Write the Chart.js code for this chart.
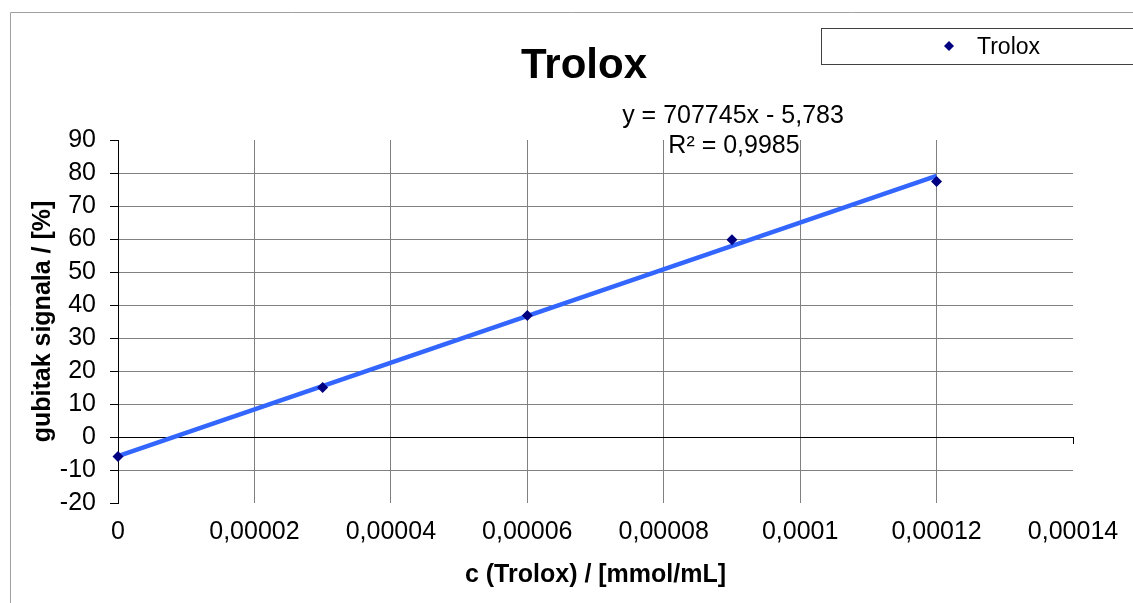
<!DOCTYPE html>
<html>
<head>
<meta charset="utf-8">
<script src="https://cdn.jsdelivr.net/npm/chart.js@4.4.1/dist/chart.umd.min.js"></script>
<style>
  html, body { margin: 0; padding: 0; background: #fff; }
  #wrap { width: 1133px; height: 603px; }
</style>
</head>
<body>
<div id="wrap"><canvas id="trolox"></canvas></div>
<script>
// --- Podaci ---
const concentrations = [0, 0.00003, 0.00006, 0.00009, 0.00012];
const signalLoss = [-5.9, 15.0, 36.8, 59.8, 77.4];
const trendX = [0, 0.00012];
const trendY = [-5.8, 79.1];
const xTickValues = [0, 0.00002, 0.00004, 0.00006, 0.00008, 0.0001, 0.00012, 0.00014];
const xTickLabels = ['0', '0,00002', '0,00004', '0,00006', '0,00008', '0,0001', '0,00012', '0,00014'];
const yTickValues = [-20, -10, 0, 10, 20, 30, 40, 50, 60, 70, 80, 90];
const yTickLabels = ['-20', '-10', '0', '10', '20', '30', '40', '50', '60', '70', '80', '90'];

const FONT = "'Liberation Sans', Arial, sans-serif";
const GRID = '#808080';

// Naslov, okvir, legenda i jednadzba pravca
const decorations = {
    id: 'decorations',
    afterDraw(chart) {
        const ctx = chart.ctx;
        const x = chart.scales.x;
        const y = chart.scales.y;
        ctx.save();

        // vanjski okvir grafikona
        ctx.strokeStyle = '#a0a0a0';
        ctx.lineWidth = 1;
        ctx.beginPath();
        ctx.moveTo(10.5, 603);
        ctx.lineTo(10.5, 12.5);
        ctx.lineTo(1133, 12.5);
        ctx.stroke();

        // naslov
        ctx.fillStyle = '#000';
        ctx.font = 'bold 42px ' + FONT;
        ctx.textAlign = 'center';
        ctx.textBaseline = 'alphabetic';
        ctx.fillText('Trolox', 584, 78);

        // legenda
        ctx.strokeStyle = '#404040';
        ctx.strokeRect(821.5, 28.5, 400, 36);
        const mx = 949, my = 46, r = 5;
        ctx.fillStyle = '#000080';
        ctx.beginPath();
        ctx.moveTo(mx, my - r);
        ctx.lineTo(mx + r, my);
        ctx.lineTo(mx, my + r);
        ctx.lineTo(mx - r, my);
        ctx.closePath();
        ctx.fill();
        ctx.fillStyle = '#000';
        ctx.font = '23px ' + FONT;
        ctx.textAlign = 'left';
        ctx.fillText('Trolox', 977, 54);

        // jednadzba trenda
        ctx.font = '25px ' + FONT;
        ctx.textAlign = 'center';
        ctx.fillText('y = 707745x - 5,783', 733, 123);
        ctx.fillText('R² = 0,9985', 734, 153);

        // oznaka na kraju osi x (kod y = 0)
        const px = Math.round(x.getPixelForValue(0.00014)) + 0.5;
        const py = Math.round(y.getPixelForValue(0));
        ctx.strokeStyle = '#000';
        ctx.beginPath();
        ctx.moveTo(px, py);
        ctx.lineTo(px, py + 7);
        ctx.stroke();

        ctx.restore();
    }
};

const chart = new Chart(document.getElementById('trolox'), {
    type: 'scatter',
    data: {
        datasets: [
            {
                label: 'Trolox',
                data: concentrations.map((c, i) => ({ x: c, y: signalLoss[i] })),
                pointStyle: 'rectRot',
                pointRadius: 5.5,
                pointHoverRadius: 5.5,
                backgroundColor: '#000080',
                borderColor: '#000080',
                borderWidth: 0,
                clip: false,
                order: 0
            },
            {
                label: 'trend',
                type: 'line',
                data: trendX.map((c, i) => ({ x: c, y: trendY[i] })),
                borderColor: '#3366ff',
                borderWidth: 4.5,
                pointRadius: 0,
                fill: false,
                clip: false,
                order: 1
            }
        ]
    },
    options: {
        responsive: true,
        maintainAspectRatio: false,
        animation: false,
        layout: { padding: { top: 140, right: 60, left: 0, bottom: 0 } },
        plugins: {
            legend: { display: false },
            tooltip: { enabled: false }
        },
        scales: {
            x: {
                type: 'linear',
                min: 0,
                max: 0.00014,
                afterBuildTicks: s => { s.ticks = xTickValues.map(v => ({ value: v })); },
                afterFit: s => { s.height = 100; },
                border: { display: false },
                grid: {
                    drawTicks: false,
                    color: c => (c.tick && (c.tick.value === 0 || c.tick.value === 0.00014)) ? 'rgba(0,0,0,0)' : GRID
                },
                ticks: {
                    padding: 14,
                    color: '#000',
                    font: { family: FONT, size: 25 },
                    maxRotation: 0,
                    autoSkip: false,
                    callback: (v, i) => xTickLabels[i]
                },
                title: {
                    display: true,
                    text: 'c (Trolox) / [mmol/mL]',
                    color: '#000',
                    font: { family: FONT, size: 25, weight: 'bold' },
                    padding: { top: 0, bottom: 13 }
                }
            },
            y: {
                type: 'linear',
                min: -20,
                max: 90,
                afterBuildTicks: s => { s.ticks = yTickValues.map(v => ({ value: v })); },
                afterFit: s => { s.width = 118; },
                border: { display: true, color: '#000', width: 1 },
                grid: {
                    drawTicks: true,
                    tickLength: 8,
                    tickColor: '#000',
                    color: c => {
                        if (!c.tick) return GRID;
                        if (c.tick.value === 0) return '#000';
                        if (c.tick.value === 90 || c.tick.value === -20) return 'rgba(0,0,0,0)';
                        return GRID;
                    }
                },
                ticks: {
                    padding: 14,
                    color: '#000',
                    font: { family: FONT, size: 25 },
                    autoSkip: false,
                    callback: (v, i) => yTickLabels[i]
                },
                title: {
                    display: true,
                    text: 'gubitak signala / [%]',
                    color: '#000',
                    font: { family: FONT, size: 25, weight: 'bold' },
                    padding: { top: 28, bottom: 0 }
                }
            }
        }
    },
    plugins: [decorations]
});
</script>
</body>
</html>
